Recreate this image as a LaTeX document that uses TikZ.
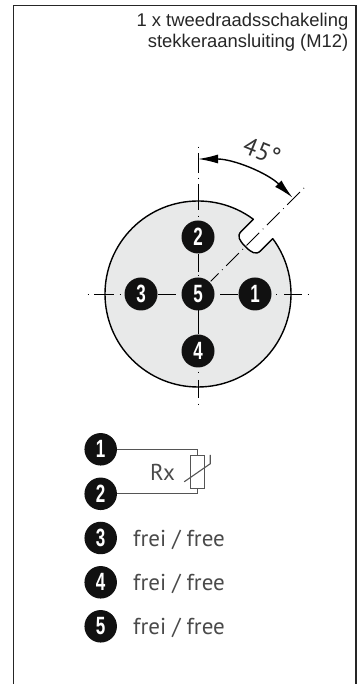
\documentclass[tikz,border=0pt]{standalone}
\usepackage{fontspec}
\usepackage{xcolor}
\usetikzlibrary{positioning,arrows.meta,calc}
\setmainfont{Liberation Sans}
\newfontfamily\pinfont[BoldFont={Liberation Sans Bold},BoldFeatures={FakeStretch=0.68}]{Liberation Sans}
\newfontfamily\dinfont{PT Sans}
\definecolor{bodygray}{HTML}{E8E9E9}
\definecolor{pinblack}{HTML}{111111}
\definecolor{wiregray}{HTML}{555555}
\definecolor{textgray}{HTML}{4A4A4A}
\tikzset{
  pin/.style = {circle, fill=pinblack, text=white, inner sep=0pt,
    minimum size=33pt, font=\pinfont\bfseries\fontsize{25}{25}\selectfont},
  keypin/.style = {pin, minimum size=32.5pt},
  axis/.style = {black, line width=0.9pt},
  wire/.style = {wiregray, line width=1.1pt},
  freetext/.style = {text=textgray, inner sep=0pt, anchor=base west,
    font=\dinfont\fontsize{23}{23}\selectfont},
  heading/.style = {text=black!85, inner sep=0pt, anchor=base east,
    font=\fontsize{18.4}{18.4}\selectfont}
}
\begin{document}
\begin{tikzpicture}[x=1pt,y=1pt]
\useasboundingbox (0,0) rectangle (360,684);
\coordinate (c) at (198,390);
% frame
\draw[black!85, line width=1.1pt] (13.5,0) -- (13.5,678.5) -- (356,678.5) -- (356,0);
\node[heading] (title1) at (348.5,657) {1 x tweedraadsschakeling};
\node[heading] (title2) at (348.5,636) {stekkeraansluiting (M12)};
% connector body with key slot
\draw[shift={(c)}, rotate=45, fill=bodygray, line width=1.4pt, line join=round]
  (8.5:93) arc[start angle=8.5, end angle=351.5, radius=93]
  -- (75,-13.75) .. controls (68,-13.75) and (67,-8) .. (67,0)
  .. controls (67,8) and (68,13.75) .. (75,13.75) -- cycle;
% centre lines
\foreach \a/\b in {-110.4/-109.6, -104/-84, -78.4/-77.6, -40/-22, 22/40, 78.4/77.6, 86/104, 109.6/110.4} {
  \draw[axis] ($(c)+(\a,0)$) -- ($(c)+(\b,0)$);
}
\foreach \a/\b in {147.4/146.6, 141/121, 116.4/115.6, 110/84, 78.4/77.6, 40/22, 19/18.2,
  -16/-40, -77.6/-78.4, -86/-104, -109.6/-110.4} {
  \draw[axis] ($(c)+(0,\a)$) -- ($(c)+(0,\b)$);
}
\draw[axis, dash pattern=on 0.8pt off 5pt on 18pt off 5pt]
  ($(c)+(45:150)$) -- ($(c)+(45:18)$);
% angle
\draw[{Latex[length=20pt,width=9pt]}-{Latex[length=20pt,width=9pt]}, line width=1.4pt]
  ($(c)+(90:135)$) arc[start angle=90, end angle=45.5, radius=135];
\node[text=black!80, rotate=-22, inner sep=0pt, font=\dinfont\fontsize{25}{25}\selectfont] (angle) at (262,533) {45°};
% pins of the connector
\node[pin] (p5) at (c) {5};
\node[pin] (p1) at ($(c)+(57,0)$) {1};
\node[pin] (p2) at ($(c)+(0,57)$) {2};
\node[pin] (p3) at ($(c)+(-57,0)$) {3};
\node[pin] (p4) at ($(c)+(0,-57)$) {4};
% wiring key
\node[keypin] (k1) at (100.7,234.7) {1};
\node[keypin] (k2) at (100.7,190.2) {2};
\node[keypin] (k3) at (100.7,146) {3};
\node[keypin] (k4) at (100.7,101.7) {4};
\node[keypin] (k5) at (100.7,57.7) {5};
\node[draw=wiregray, line width=1.1pt, minimum width=14.3pt, minimum height=33pt, inner sep=0pt] (rx) at (197.2,212.2) {};
\draw[wire] (k1) -| (rx.north);
\draw[wire] (k2) -| (rx.south);
\draw[wire] ($(rx)+(-13,-10)$) -- ($(rx)+(13,8)$) -- ($(rx)+(13,17)$);
\node[freetext] (rxlabel) at (150,203) {Rx};
\node[freetext] (free3) at (133,137.5) {frei / free};
\node[freetext] (free4) at (133,93.5) {frei / free};
\node[freetext] (free5) at (133,49.5) {frei / free};
\end{tikzpicture}
\end{document}
